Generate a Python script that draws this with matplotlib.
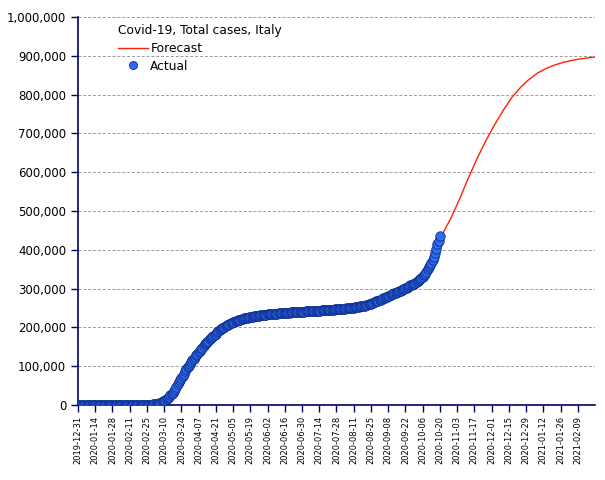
import matplotlib
matplotlib.use("Agg")
import matplotlib.pyplot as plt
import matplotlib.transforms as mtransforms
from matplotlib.ticker import FuncFormatter, MultipleLocator
import pandas as pd

TITLE = "Covid-19, Total cases, Italy"

# daily cumulative cases, 2020-02-21 .. 2020-10-20
ACTUAL_START = "2020-02-21"
actual_cases = [
    20, 79, 157, 229, 323, 470, 655, 888, 1128, 1694, 2036, 2502, 3089, 3858,
    4636, 5883, 7375, 9172, 10149, 12462, 15113, 17660, 21157, 24747, 27980,
    31506, 35713, 41035, 47021, 53578, 59138, 63927, 69176, 74386, 80589,
    86498, 92472, 97689, 101739, 105792, 110574, 115242, 119827, 124632,
    128948, 132547, 135586, 139422, 143626, 147577, 152271, 156363, 159516,
    162488, 165155, 168941, 172434, 175925, 178972, 181228, 183957, 187327,
    189973, 192994, 195351, 197675, 199414, 201505, 203591, 205463, 207428,
    209328, 210717, 211938, 213013, 214457, 215858, 217185, 218268, 219070,
    219814, 221216, 222104, 223096, 223885, 224760, 225435, 225886, 226699,
    227364, 228006, 228658, 229327, 229858, 230158, 230555, 231139, 231732,
    232248, 232664, 233019, 233197, 233515, 233836, 234013, 234531, 234801,
    234998, 235278, 235561, 235763, 236142, 236305, 236651, 236989, 237290,
    237500, 237828, 238159, 238011, 238275, 238499, 238720, 238833, 239410,
    239706, 239961, 240136, 240310, 240436, 240578, 240760, 240961, 241184,
    241419, 241611, 241819, 241956, 242149, 242363, 242639, 242827, 243061,
    243230, 243344, 243506, 243736, 243967, 244216, 244434, 244624, 244752,
    245032, 245338, 245590, 245864, 246118, 246286, 246488, 246776, 247158,
    247537, 247832, 248070, 248229, 248419, 248803, 249204, 249756, 250103,
    250566, 250825, 251237, 251713, 252235, 252809, 253438, 253915, 254235,
    254636, 255278, 256118, 257065, 258136, 259345, 260298, 261174, 262540,
    263949, 265409, 267273, 268218, 269214, 270189, 271515, 272912, 274644,
    276338, 277634, 278784, 280153, 281583, 283180, 284796, 286297, 287753,
    288761, 290126, 291442, 293025, 294932, 296569, 298156, 299506, 300897,
    302537, 304323, 306235, 308104, 309870, 311364, 313011, 314861, 317409,
    319908, 322751, 325329, 327586, 330263, 333940, 338398, 343770, 349494,
    354950, 359569, 365467, 372799, 381602, 391611, 402536, 414241, 423578,
    434449,
]
# days before the outbreak (2019-12-31 .. 2020-02-20)
EARLY_START = "2019-12-31"
early_cases = [0] * 31 + [2] * 6 + [3] * 15

forecast_dates = [
    "2020-10-08", "2020-10-15", "2020-10-22", "2020-10-29",
    "2020-11-05", "2020-11-12", "2020-11-19", "2020-11-26", "2020-12-03",
    "2020-12-10", "2020-12-17", "2020-12-24", "2020-12-31", "2021-01-07",
    "2021-01-14", "2021-01-21", "2021-01-28", "2021-02-04", "2021-02-11",
    "2021-02-18", "2021-02-23",
]
forecast_cases = [
    352000, 393000, 440000, 482000, 531000, 584000, 634000, 679000, 720000,
    757000, 791000, 817000, 838000, 855000, 867000, 876000, 883000, 888000,
    892000, 895000, 897000,
]

NAVY = "#000066"

act_x = pd.date_range(EARLY_START, periods=len(early_cases)).append(
    pd.date_range(ACTUAL_START, periods=len(actual_cases)))
act_y = early_cases + actual_cases
fc_x = pd.to_datetime(forecast_dates)

fig = plt.figure(figsize=(6.05, 4.8), dpi=100)
ax = fig.add_axes([78 / 605, 75 / 480, 517 / 605, 388 / 480])

ax.plot(fc_x, forecast_cases, color="#ff2200", lw=1.0, label="Forecast", zorder=2)
ax.plot(act_x, act_y, ls="none", marker="o", markersize=6.8,
        markerfacecolor="#2f6cec", markeredgecolor="#0c2c8c", markeredgewidth=0.6,
        label="Actual", zorder=3)

ax.set_xlim(pd.Timestamp("2019-12-31"), pd.Timestamp("2021-02-23"))
ax.set_ylim(0, 1000000)
ax.yaxis.set_major_locator(MultipleLocator(100000))
ax.yaxis.set_major_formatter(FuncFormatter(lambda v, p: f"{int(v):,}"))
ax.grid(axis="y", color="#999999", ls=(0, (3, 2)), lw=0.7)
ax.set_axisbelow(True)

ticks = pd.date_range("2019-12-31", "2021-02-09", freq="14D")
ax.set_xticks(ticks)
ax.set_xticklabels([t.strftime("%Y-%m-%d") for t in ticks], rotation=90,
                   fontsize=6, va="top", ha="center")
shift = mtransforms.ScaledTranslation(0, -10 / 72, fig.dpi_scale_trans)
for i, lab in enumerate(ax.get_xticklabels()):
    if i % 2 == 1:
        lab.set_transform(lab.get_transform() + shift)

ax.tick_params(axis="y", labelsize=8.5, colors=NAVY, labelcolor="black", length=5, width=1)
ax.tick_params(axis="x", colors=NAVY, labelcolor="black", length=5, width=1, pad=3)
for s in ("top", "right"):
    ax.spines[s].set_visible(False)
for s in ("left", "bottom"):
    ax.spines[s].set_color(NAVY)
    ax.spines[s].set_linewidth(1.2)

leg = ax.legend(title=TITLE, loc="upper left", frameon=False, fontsize=8.8,
                title_fontsize=8.8, alignment="left", handlelength=2.5,
                handletextpad=0.15, markerscale=0.85, bbox_to_anchor=(0.063, 1.0),
                borderaxespad=0.2, labelspacing=0.38)

fig.savefig("out.png", dpi=100)
